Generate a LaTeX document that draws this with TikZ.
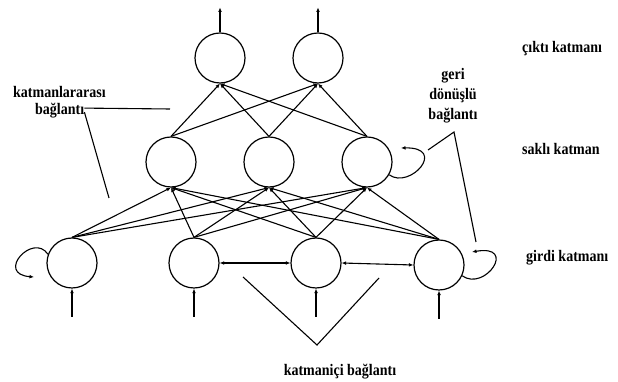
\documentclass[tikz,border=0pt]{standalone}
\usepackage{fontspec}
\usepackage{graphicx}
\setmainfont{Liberation Serif}
\usetikzlibrary{arrows.meta}
% labels are set in a slightly tall bold face
\newcommand{\tallbold}[1]{\scalebox{1}[1.15]{#1}}
\tikzset{
  neuron/.style={circle, draw, line width=1.2pt, minimum size=50pt, inner sep=0pt},
  link/.style={line width=1.1pt, -{Latex[length=4.5pt,width=3.8pt]}},
  duplex/.style={line width=1.1pt, {Latex[length=4.5pt,width=3.8pt]}-{Latex[length=4.5pt,width=3.8pt]}},
  pointer/.style={line width=1.1pt},
  label/.style={font=\fontsize{14}{20}\selectfont\bfseries, inner sep=0pt}
}
\begin{document}
\begin{tikzpicture}[x=1pt, y=1pt]
\useasboundingbox (0,0) rectangle (618,382);

% output layer
\node[neuron] (o1) at (220,324) {};
\node[neuron] (o2) at (318,324) {};
% hidden layer
\node[neuron] (h1) at (171,220) {};
\node[neuron] (h2) at (269,220) {};
\node[neuron] (h3) at (367,220) {};
% input layer
\node[neuron] (i1) at (72,119) {};
\node[neuron] (i2) at (194,119) {};
\node[neuron] (i3) at (316,119) {};
\node[neuron] (i4) at (439,117) {};

% between-layer connections
\foreach \h in {h1,h2,h3}
  \foreach \o in {o1,o2}
    \draw[link] (\h.north) -- (\o.south);
\foreach \i in {i1,i2,i3,i4}
  \foreach \h in {h1,h2,h3}
    \draw[link] (\i.north) -- (\h.south);

% external inputs and outputs
\foreach \i in {i1,i2,i3,i4}
{
  \coordinate (\i-in) at ([yshift=-28pt]\i.south);
  \draw[link] (\i-in) -- (\i.south);
}
\foreach \o in {o1,o2}
{
  \coordinate (\o-out) at ([yshift=25pt]\o.north);
  \draw[link] (\o.north) -- (\o-out);
}

% lateral connections in the input layer
\draw[duplex] (i2.east) -- (i3.west);
\draw[duplex] (i3.east) -- (i4.west);

% self-feedback loops
\draw[link] (i1.160) .. controls (33,150) and (-5,108) .. (34,105);
\draw[link] (h3.-30) .. controls (410,192) and (448,235) .. (401,234);
\draw[link] (i4.-25) .. controls (485,90) and (518,138) .. (472,130);

% layer names
\node[label, anchor=base west] (lo) at (522,329) {\tallbold{çıktı katmanı}};
\node[label, anchor=base west] (lh) at (522,227) {\tallbold{saklı katman}};
\node[label, anchor=base west] (li) at (526,120) {\tallbold{girdi katmanı}};

% between-layer label and pointers
\node[label, anchor=base west] (ka) at (13,284) {\tallbold{katmanlararası}};
\node[label, anchor=base west] (kb) at (35,267) {\tallbold{bağlantı}};
\coordinate (ka1) at (170,273);
\coordinate (ka2) at (109,184);
\draw[pointer] ([yshift=3pt]kb.east) -- (ka1);
\draw[pointer] ([yshift=-1pt]kb.east) -- (ka2);

% feedback label and pointers
\node[label, anchor=base] (gd1) at (453,302) {\tallbold{geri}};
\node[label, anchor=base] (gd2) at (453,282) {\tallbold{dönüşlü}};
\node[label, anchor=base] (gd3) at (453,262) {\tallbold{bağlantı}};
\coordinate (gv) at (454,250);
\coordinate (g1) at (428,232);
\coordinate (g2) at (476,140);
\draw[pointer] (g1) -- (gv) -- (g2);

% within-layer label and pointers
\node[label, anchor=base] (kc) at (340,6) {\tallbold{katmaniçi bağlantı}};
\coordinate (kv) at (317,37);
\coordinate (k1) at (243,105);
\coordinate (k2) at (379,104);
\draw[pointer] (k1) -- (kv) -- (k2);
\end{tikzpicture}
\end{document}
